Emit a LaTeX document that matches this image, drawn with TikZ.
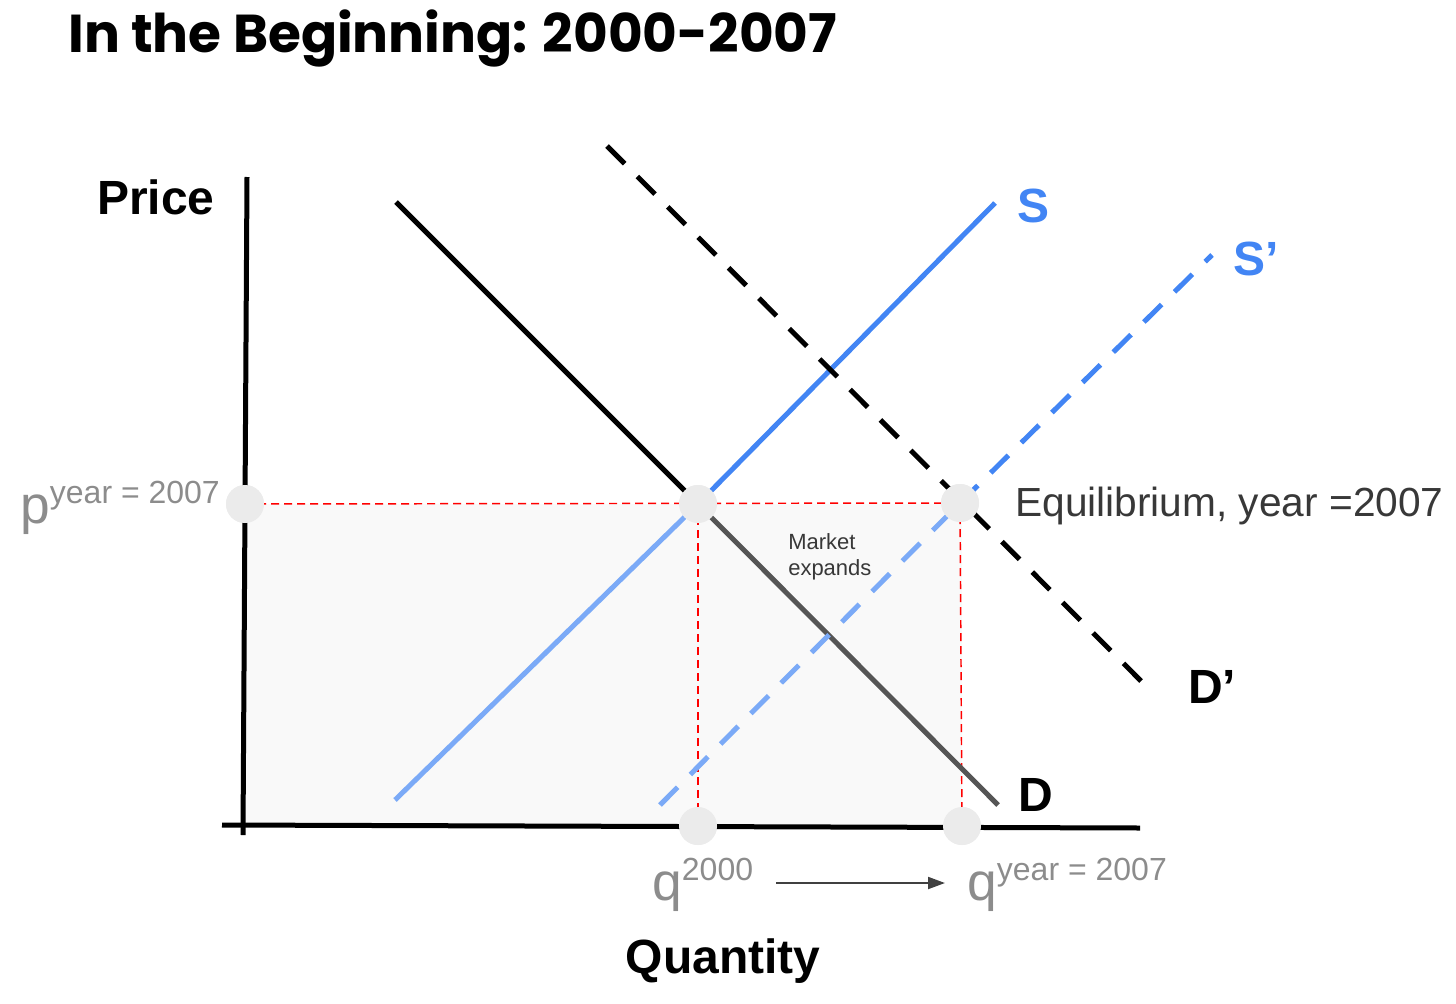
\documentclass[tikz,border=0pt]{standalone}
\usepackage{fontspec}
\setmainfont{Liberation Sans}
\newfontfamily\titlefont{Poppins}
\usetikzlibrary{arrows.meta}
\definecolor{sblue}{HTML}{4285F4}
\definecolor{sbluelight}{HTML}{7BAAF7}
\definecolor{dgray}{HTML}{555555}
\definecolor{dotgray}{HTML}{EBEBEB}
\definecolor{lblgray}{HTML}{8C8C8C}
\definecolor{txtgray}{HTML}{383838}
\definecolor{areagray}{HTML}{F9F9F9}
\newcommand{\suplabel}[2]{{\fontsize{40}{40}\selectfont #1}\raisebox{15pt}{\fontsize{24}{24}\selectfont #2}}

\begin{document}
\begin{tikzpicture}[x=0.75pt,y=0.75pt,yscale=-1,xscale=1,
	curve/.style={line width=3.75pt},
	dashcurve/.style={line width=3.75pt, dash pattern=on 18.75pt off 13.5pt},
	guide/.style={red, line width=1.1pt, dash pattern=on 6pt off 3.75pt},
	eqdot/.style={circle, fill=dotgray, inner sep=0pt, minimum size=28.5pt},
	axislbl/.style={font=\fontsize{36}{36}\selectfont\bfseries, inner sep=0pt, anchor=base west},
	varlbl/.style={text=lblgray, inner sep=0pt, anchor=base west}]
	\useasboundingbox (0,0) rectangle (1456,1003);
	\coordinate (Dtop) at (396,202);
	\coordinate (Dbot) at (998,805);
	\coordinate (Stop) at (995,203);
	\coordinate (Sbot) at (395,800);
	\coordinate (Dnewtop) at (607,146);
	\coordinate (Dnewbot) at (1150,690);
	\coordinate (Snewtop) at (1212,255);
	\coordinate (Snewbot) at (660,805);
	\coordinate (ytop) at (247,177);
	\coordinate (ybot) at (243,835);
	\coordinate (xleft) at (222,825);
	\coordinate (xright) at (1140,828);
	\coordinate (arrowstart) at (776,883);
	\coordinate (arrowend) at (945,883);
	\node[eqdot] (eqold) at (698,504) {};
	\node[eqdot] (eqnew) at (960,503) {};
	\node[eqdot] (pdot) at (245,504) {};
	\node[eqdot] (qolddot) at (698,826) {};
	\node[eqdot] (qnewdot) at (962,826) {};
	\fill[areagray] (pdot.center) rectangle (qnewdot.center);
	\draw[guide] (pdot.center) -- (eqnew.center);
	\draw[guide] (eqold.center) -- (qolddot.center);
	\draw[guide] (eqnew.center) -- (qnewdot.center);
	\draw[line width=3.75pt] (ytop) -- (ybot);
	\draw[line width=3.75pt] (xleft) -- (xright);
	\draw[curve] (Dtop) -- (eqold.center);
	\draw[curve, dgray] (eqold.center) -- (Dbot);
	\draw[curve, sbluelight] (Sbot) -- (eqold.center);
	\draw[curve, sblue] (eqold.center) -- (Stop);
	\draw[dashcurve] (Dnewtop) -- (Dnewbot);
	\draw[dashcurve, sbluelight] (Snewbot) -- (eqnew.center);
	\draw[dashcurve, sblue] (eqnew.center) -- (Snewtop);
	\node[eqdot] at (eqold) {};
	\node[eqdot] at (eqnew) {};
	\node[eqdot] at (pdot) {};
	\node[eqdot] at (qolddot) {};
	\node[eqdot] at (qnewdot) {};
	\draw[line width=1.5pt, black!75, -{Triangle[length=12.75pt,width=9pt]}] (arrowstart) -- (arrowend);
	\node[anchor=base west, inner sep=0pt, font=\titlefont\bfseries\fontsize{40}{40}\selectfont] (title) at (68,52) {In the Beginning: 2000-2007};
	\node[axislbl] (price) at (97,214) {Price};
	\node[axislbl, anchor=base] (quantity) at (723,973) {Quantity};
	\node[axislbl, text=sblue] (slbl) at (1017,222) {S};
	\node[axislbl, text=sblue] (snewlbl) at (1233,275) {S’};
	\node[axislbl] (dlbl) at (1018,811) {D};
	\node[axislbl] (dnewlbl) at (1188,703) {D’};
	\node[anchor=base west, inner sep=0pt, text=txtgray, font=\fontsize{30.5}{30.5}\selectfont] (eqlbl) at (1015,516) {Equilibrium, year =2007};
	\node[anchor=base west, inner sep=0pt, text=txtgray, align=left, font=\fontsize{16.5}{19.5}\selectfont] (marketlbl) at (788,575) {Market\\expands};
	\node[varlbl] (plbl) at (20,523) {\suplabel{p}{year = 2007}};
	\node[varlbl] (qoldlbl) at (652,900) {\suplabel{q}{2000}};
	\node[varlbl] (qnewlbl) at (967,900) {\suplabel{q}{year = 2007}};
\end{tikzpicture}
\end{document}
